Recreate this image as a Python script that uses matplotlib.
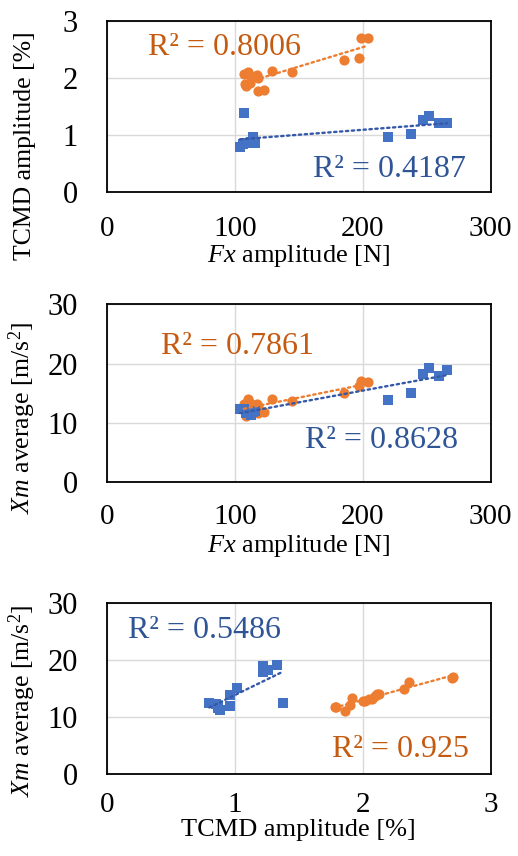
import numpy as np
import matplotlib
matplotlib.use("Agg")
import matplotlib.pyplot as plt

plt.rcParams['font.family'] = ['Liberation Serif', 'DejaVu Serif']
plt.rcParams['mathtext.fontset'] = 'custom'
plt.rcParams['mathtext.rm'] = 'Liberation Serif'
plt.rcParams['mathtext.it'] = 'Liberation Serif:italic'

# ---- data: blue series (squares) ----
fx_blue = [104, 106, 109, 113, 114, 116, 107, 220, 238, 247, 252, 260, 266]
tcmd_blue = [0.80, 0.85, 0.87, 0.88, 0.96, 0.87, 1.38, 0.96, 1.02, 1.26, 1.33, 1.22, 1.22]
xm_blue = [12.4, 12.3, 11.6, 11.3, 11.9, 12.0, 12.4, 13.8, 15.1, 18.2, 19.2, 17.9, 19.0]

# ---- data: orange series (circles) ----
fx_orange = [107, 110, 113, 117, 118, 108, 112, 118, 123, 109, 129, 145, 185, 197, 199, 204]
tcmd_orange = [2.07, 2.11, 2.02, 2.05, 2.00, 1.90, 1.92, 1.78, 1.79, 1.86, 2.13, 2.10, 2.32, 2.36, 2.71, 2.70]
xm_orange = [13.2, 14.0, 12.9, 13.2, 12.8, 12.2, 13.4, 11.7, 11.8, 11.1, 14.1, 13.7, 15.0, 16.2, 17.1, 16.9]

# R² labels
r2_p1 = ["R² = 0.4187", "R² = 0.8006"]
r2_p2 = ["R² = 0.8628", "R² = 0.7861"]
r2_p3 = ["R² = 0.5486", "R² = 0.925"]

fx_ticks = [0, 100, 200, 300]
tcmd_ticks = [0, 1, 2, 3]
xm_ticks = [0, 10, 20, 30]

BLUE = '#4472C4'
ORANGE = '#ED7D31'
BLUE_TXT = '#2F5597'
ORANGE_TXT = '#C55A11'
BLUE_TR = '#3559A8'
ORANGE_TR = '#ED7D31'

fig = plt.figure(figsize=(5.18, 8.56), dpi=100)
L, W = 0.2066, 0.7404
ax1 = fig.add_axes([L, 0.7754, W, 0.2001])
ax2 = fig.add_axes([L, 0.4366, W, 0.2079])
ax3 = fig.add_axes([L, 0.0958, W, 0.1994])

XTICK_FS = 21
YTICK_FS = 22
XLAB_FS = 19
YLAB_FS = 18.5
R2_FS = 23


def trend(ax, x, y, color):
    x = np.asarray(x, float)
    y = np.asarray(y, float)
    k, b = np.polyfit(x, y, 1)
    xs = np.array([x.min(), x.max()])
    ax.plot(xs, k * xs + b, color=color, lw=1.7, ls=(0, (1, 1.5)),
            dash_capstyle='round', zorder=5)


def style(ax, xt, yt, xpad):
    ax.set_xlim(xt[0], xt[-1])
    ax.set_ylim(yt[0], yt[-1])
    ax.set_xticks(xt)
    ax.set_yticks(yt)
    ax.grid(True, color='#d9d9d9', lw=1.0, zorder=0)
    ax.set_axisbelow(True)
    ax.tick_params(axis='both', length=0)
    ax.tick_params(axis='x', pad=xpad, labelsize=XTICK_FS)
    ax.tick_params(axis='y', pad=21, labelsize=YTICK_FS)
    for s in ax.spines.values():
        s.set_color('black')
        s.set_linewidth(1.3)


def panel(ax, xb, yb, xo, yo, xt, yt, xpad):
    ax.scatter(xo, yo, marker='o', s=54, color=ORANGE, zorder=3, linewidths=0)
    ax.scatter(xb, yb, marker='s', s=46, color=BLUE, zorder=3, linewidths=0)
    trend(ax, xb, yb, BLUE_TR)
    trend(ax, xo, yo, ORANGE_TR)
    style(ax, xt, yt, xpad)


panel(ax1, fx_blue, tcmd_blue, fx_orange, tcmd_orange, fx_ticks, tcmd_ticks, 17)
panel(ax2, fx_blue, xm_blue, fx_orange, xm_orange, fx_ticks, xm_ticks, 16)
panel(ax3, tcmd_blue, xm_blue, tcmd_orange, xm_orange, tcmd_ticks, xm_ticks, 13)

ax1.text(32, 2.54, r2_p1[1], color=ORANGE_TXT, fontsize=R2_FS, va='center', ha='left')
ax1.text(161, 0.39, r2_p1[0], color=BLUE_TXT, fontsize=R2_FS, va='center', ha='left')
ax2.text(42, 22.9, r2_p2[1], color=ORANGE_TXT, fontsize=R2_FS, va='center', ha='left')
ax2.text(155, 7.1, r2_p2[0], color=BLUE_TXT, fontsize=R2_FS, va='center', ha='left')
ax3.text(0.167, 25.2, r2_p3[0], color=BLUE_TXT, fontsize=R2_FS, va='center', ha='left')
ax3.text(1.76, 4.36, r2_p3[1], color=ORANGE_TXT, fontsize=R2_FS, va='center', ha='left')

ax1.set_ylabel('TCMD amplitude [%]', fontsize=YLAB_FS)
ax1.set_xlabel(r'$\mathit{Fx}$ amplitude [N]', fontsize=XLAB_FS)
ax2.set_ylabel(r'$\mathit{Xm}$ average [m/s$^2$]', fontsize=YLAB_FS)
ax2.set_xlabel(r'$\mathit{Fx}$ amplitude [N]', fontsize=XLAB_FS)
ax3.set_ylabel(r'$\mathit{Xm}$ average [m/s$^2$]', fontsize=YLAB_FS)
ax3.set_xlabel('TCMD amplitude [%]', fontsize=XLAB_FS)

ax1.yaxis.set_label_coords(-0.185, 0.27)
ax2.yaxis.set_label_coords(-0.18, 0.36)
ax3.yaxis.set_label_coords(-0.18, 0.43)
ax1.xaxis.set_label_coords(0.5, -0.296)
ax2.xaxis.set_label_coords(0.5, -0.287)
ax3.xaxis.set_label_coords(0.5, -0.265)

fig.savefig('out.png', dpi=100)
